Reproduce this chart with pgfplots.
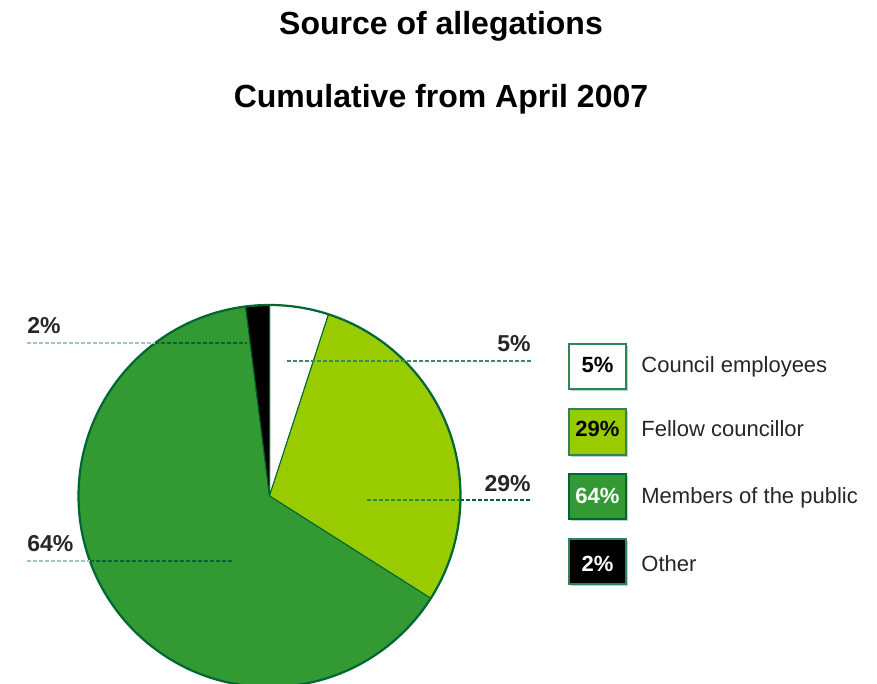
\documentclass[border=0pt]{standalone}
\usepackage{pgfplots}
\pgfplotsset{compat=1.18}
\usepackage{pgfplotstable}
\usepackage{fontspec}
\setmainfont{Liberation Sans}
\definecolor{clight}{HTML}{99CC00}
\definecolor{cdark}{HTML}{339933}
\definecolor{edge}{HTML}{006633}
\definecolor{boxedge}{HTML}{2E8558}
\definecolor{lineout}{HTML}{A0C8B6}
\definecolor{linemid}{HTML}{3A8A66}
\definecolor{shadow}{HTML}{B8D4C6}

\pgfplotstableread{
idx value
0 5
1 29
2 64
3 2
}\piedata

\begin{document}
\begin{tikzpicture}
\pgfplotstablegetelem{0}{value}\of\piedata \edef\vA{\pgfplotsretval}
\pgfplotstablegetelem{1}{value}\of\piedata \edef\vB{\pgfplotsretval}
\pgfplotstablegetelem{2}{value}\of\piedata \edef\vC{\pgfplotsretval}
\pgfplotstablegetelem{3}{value}\of\piedata \edef\vD{\pgfplotsretval}
\pgfmathsetmacro\aA{90-3.6*\vA}
\pgfmathsetmacro\aB{\aA-3.6*\vB}
\pgfmathsetmacro\aC{\aB-3.6*\vC}
\pgfmathsetmacro\aD{\aC-3.6*\vD}
\def\R{95.5pt}
\begin{axis}[x=0.5pt,y=0.5pt,xmin=0,xmax=877,ymin=0,ymax=684,hide axis,clip=true]
% pie slices
\filldraw[fill=white,draw=edge,line width=0.5pt] (axis cs:269.5,188) -- ++(90:\R) arc[start angle=90,end angle=\aA,radius=\R] -- cycle;
\filldraw[fill=clight,draw=edge,line width=0.5pt] (axis cs:269.5,188) -- ++(\aA:\R) arc[start angle=\aA,end angle=\aB,radius=\R] -- cycle;
\filldraw[fill=cdark,draw=edge,line width=0.5pt] (axis cs:269.5,188) -- ++(\aB:\R) arc[start angle=\aB,end angle=\aC,radius=\R] -- cycle;
\filldraw[fill=black,draw=edge,line width=0.5pt] (axis cs:269.5,188) -- ++(\aC:\R) arc[start angle=\aC,end angle=\aD,radius=\R] -- cycle;
\draw[edge,line width=1.1pt] (axis cs:269.5,188) circle[radius=\R];
% leader lines
\draw[lineout,line width=1pt,dash pattern=on 2pt off 1pt] (axis cs:27,341) -- (axis cs:155,341);
\draw[edge,line width=0.8pt,dash pattern=on 2pt off 1pt] (axis cs:155,341) -- (axis cs:247,341);
\draw[linemid,line width=0.9pt,dash pattern=on 2pt off 1pt] (axis cs:287,323) -- (axis cs:532,323);
\draw[cdark!80!edge,line width=0.8pt,dash pattern=on 2pt off 1pt] (axis cs:367,184) -- (axis cs:460,184);
\draw[edge,line width=1.1pt,dash pattern=on 2pt off 1pt] (axis cs:460,184) -- (axis cs:532,184);
\draw[lineout,line width=1pt,dash pattern=on 2pt off 1pt] (axis cs:27,123) -- (axis cs:90,123);
\draw[edge,line width=0.8pt,dash pattern=on 2pt off 1pt] (axis cs:90,123) -- (axis cs:233,123);
% pie labels
\node[anchor=base west,inner sep=0pt,font=\fontsize{11.5}{14}\selectfont\bfseries,text=black!85] at (axis cs:27,350) {2\%};
\node[anchor=base east,inner sep=0pt,font=\fontsize{11.5}{14}\selectfont\bfseries,text=black!85] at (axis cs:531,332) {5\%};
\node[anchor=base east,inner sep=0pt,font=\fontsize{11.5}{14}\selectfont\bfseries,text=black!85] at (axis cs:531,192) {29\%};
\node[anchor=base west,inner sep=0pt,font=\fontsize{11.5}{14}\selectfont\bfseries,text=black!85] at (axis cs:27,132) {64\%};
% legend
\fill[shadow] (axis cs:571,293) rectangle (axis cs:628,338);
\filldraw[fill=white,draw=boxedge,line width=1pt] (axis cs:569,295) rectangle (axis cs:626,340);
\fill[shadow] (axis cs:571,227) rectangle (axis cs:628,273);
\filldraw[fill=clight,draw=boxedge,line width=1pt] (axis cs:569,229) rectangle (axis cs:626,275);
\fill[shadow] (axis cs:571,163) rectangle (axis cs:628,208);
\filldraw[fill=cdark,draw=edge,line width=1pt] (axis cs:569,165) rectangle (axis cs:626,210);
\fill[shadow] (axis cs:571,98) rectangle (axis cs:628,143);
\filldraw[fill=black,draw=boxedge,line width=1pt] (axis cs:569,100) rectangle (axis cs:626,145);
\node[anchor=base,inner sep=0pt,font=\fontsize{11}{13}\selectfont\bfseries,text=black] at (axis cs:597.5,311) {5\%};
\node[anchor=base,inner sep=0pt,font=\fontsize{11}{13}\selectfont\bfseries,text=black] at (axis cs:597.5,247) {29\%};
\node[anchor=base,inner sep=0pt,font=\fontsize{11}{13}\selectfont\bfseries,text=white] at (axis cs:597.5,180) {64\%};
\node[anchor=base,inner sep=0pt,font=\fontsize{11}{13}\selectfont\bfseries,text=white] at (axis cs:597.5,112) {2\%};
\node[anchor=base west,inner sep=0pt,font=\fontsize{11}{13}\selectfont,text=black!85] at (axis cs:641,311) {Council employees};
\node[anchor=base west,inner sep=0pt,font=\fontsize{11}{13}\selectfont,text=black!85] at (axis cs:641,247) {Fellow councillor};
\node[anchor=base west,inner sep=0pt,font=\fontsize{11}{13}\selectfont,text=black!85] at (axis cs:641,180) {Members of the public};
\node[anchor=base west,inner sep=0pt,font=\fontsize{11}{13}\selectfont,text=black!85] at (axis cs:641,112) {Other};
% titles
\node[anchor=base,inner sep=0pt,font=\fontsize{16}{19}\selectfont\bfseries] at (axis cs:441,649) {Source of allegations};
\node[anchor=base,inner sep=0pt,font=\fontsize{16}{19}\selectfont\bfseries] at (axis cs:441,576) {Cumulative from April 2007};
\end{axis}
\pgfresetboundingbox
\useasboundingbox (current axis.south west) rectangle (current axis.north east);
\end{tikzpicture}
\end{document}
